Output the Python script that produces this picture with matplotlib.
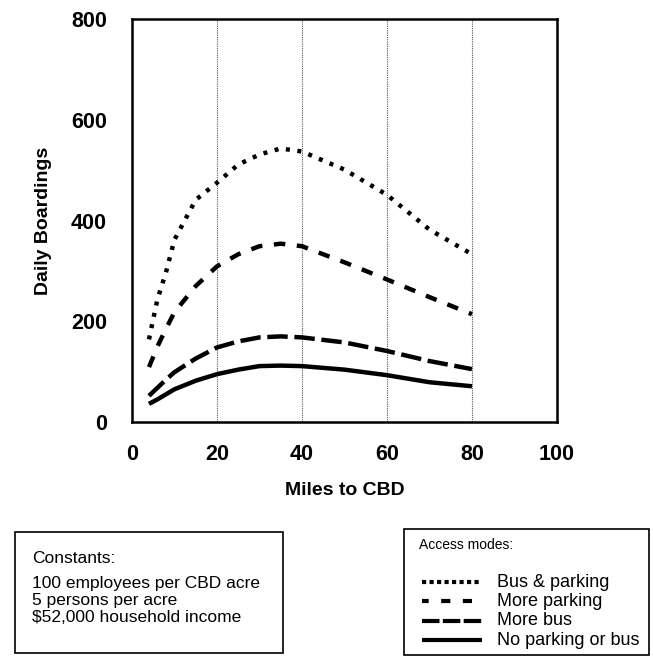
import matplotlib
matplotlib.use('Agg')
import matplotlib.pyplot as plt
from matplotlib.patches import Rectangle
from matplotlib.lines import Line2D

plt.rcParams['font.family'] = ['Liberation Sans', 'DejaVu Sans']

# miles to CBD
miles = [4, 6, 8, 10, 15, 20, 25, 30, 35, 40, 50, 60, 70, 80]

# daily boardings per access mode
bus_parking = [164, 244, 297, 362, 441, 475, 511, 531, 543, 537, 501, 451, 382, 333]
more_parking = [109, 150, 185, 218, 270, 309, 333, 349, 354, 349, 317, 283, 248, 214]
more_bus = [52, 68, 84, 99, 126, 148, 160, 168, 170, 168, 158, 141, 121, 105]
no_parking_bus = [36, 45, 55, 65, 82, 95, 104, 111, 112, 111, 104, 93, 79, 71]

labels = ['Bus & parking', 'More parking', 'More bus', 'No parking or bus']
constants = ['100 employees per CBD acre', '5 persons per acre', '$52,000 household income']

x_ticks = [0, 20, 40, 60, 80, 100]
y_ticks = [0, 200, 400, 600, 800]

styles = [
    dict(linestyle=(0, (0.9, 1.7)), dash_capstyle='butt'),
    dict(linestyle=(0, (2.6, 2.6)), dash_capstyle='butt'),
    dict(linestyle=(0, (4.6, 1.5)), dash_capstyle='butt'),
    dict(linestyle='-', solid_capstyle='butt'),
]
# legend samples are drawn a bit finer in the original
sample_styles = [
    dict(linestyle=(0, (1.0, 0.8)), dash_capstyle='butt'),
    dict(linestyle=(0.6, (2.2, 3.0)), dash_capstyle='butt'),
    dict(linestyle=(0, (4.2, 0.8)), dash_capstyle='butt'),
    dict(linestyle='-', solid_capstyle='butt'),
]

fig = plt.figure(figsize=(6.53, 6.62), dpi=100)
ax = fig.add_axes([0.2021, 0.3625, 0.6508, 0.6088])

series = [bus_parking, more_parking, more_bus, no_parking_bus]
for vals, st in zip(series, styles):
    ax.plot(miles, vals, color='black', linewidth=3.2, **st)

ax.set_xlim(0, 100)
ax.set_ylim(0, 800)
ax.set_xticks(x_ticks)
ax.set_yticks(y_ticks)
ax.tick_params(length=0, labelsize=15.5)
ax.tick_params(axis='x', pad=16)
ax.tick_params(axis='y', pad=18)
for lab in ax.get_xticklabels() + ax.get_yticklabels():
    lab.set_fontweight('bold')

# dotted vertical grid
for gx in x_ticks[1:-1]:
    ax.axvline(gx, color='#555555', linewidth=0.8, linestyle=(0, (1, 1)), zorder=0)

for sp in ax.spines.values():
    sp.set_linewidth(1.8)
    sp.set_color('black')

ax.set_xlabel('Miles to CBD', fontsize=14, fontweight='bold', labelpad=12)
ax.set_ylabel('Daily Boardings', fontsize=14, fontweight='bold', labelpad=14)

# constants box
fig.patches.append(Rectangle((0.023, 0.0136), 0.410, 0.183, transform=fig.transFigure,
                             fill=False, edgecolor='black', linewidth=1.2))
fig.text(0.049, 0.157, 'Constants:', fontsize=12.5, va='center')
for i, c in enumerate(constants):
    fig.text(0.049, 0.1193 - i * 0.0257, c, fontsize=12.5, va='center')

# access modes box
fig.patches.append(Rectangle((0.6187, 0.0106), 0.3752, 0.1903, transform=fig.transFigure,
                             fill=False, edgecolor='black', linewidth=1.2))
fig.text(0.6416, 0.1767, 'Access modes:', fontsize=10, va='center')
for i, (lab, st) in enumerate(zip(labels, sample_styles)):
    yy = 0.1208 - i * 0.0292
    fig.lines.append(Line2D([0.6462, 0.7381], [yy, yy], transform=fig.transFigure,
                            color='black', linewidth=3.0, **st))
    fig.text(0.7611, yy, lab, fontsize=13, va='center')

fig.savefig('out.png', dpi=100)
